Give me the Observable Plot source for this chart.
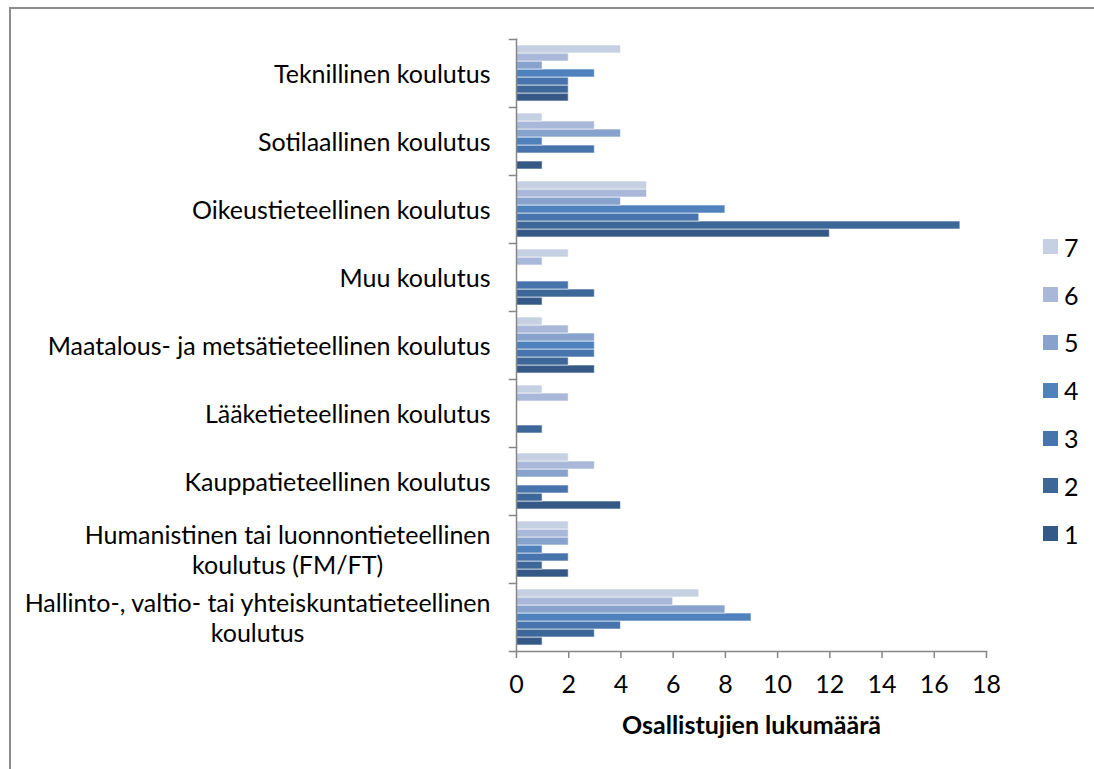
<!DOCTYPE html>
<html>
<head>
<meta charset="utf-8">
<script src="https://cdn.jsdelivr.net/npm/d3@7"></script>
<script src="https://cdn.jsdelivr.net/npm/@observablehq/plot@0.6"></script>
<style>
  html, body { margin: 0; padding: 0; background: #fff; overflow: hidden; }
  #chart { position: relative; width: 1094px; height: 769px; overflow: hidden; font-family: Lato, "Open Sans", sans-serif; }
  #border { position: absolute; left: 9px; top: 7px; right: 0; bottom: 0; border-top: 2px solid #8c8c8c; border-left: 2px solid #8c8c8c; pointer-events: none; }
  #plot { position: absolute; left: 0; top: 0; }
  #legend { position: absolute; left: 1043px; top: 223px; }
  #legend .item { display: flex; align-items: center; height: 47.8px; font-size: 25px; color: #000; }
  #legend .swatch { width: 15px; height: 15px; margin-right: 6px; }
</style>
</head>
<body>
<div id="chart">
  <div id="border"></div>
  <div id="plot"></div>
  <div id="legend"></div>
</div>
<script>
// Education backgrounds (top to bottom) and their axis labels
const categories = [
  "Teknillinen koulutus",
  "Sotilaallinen koulutus",
  "Oikeustieteellinen koulutus",
  "Muu koulutus",
  "Maatalous- ja metsätieteellinen koulutus",
  "Lääketieteellinen koulutus",
  "Kauppatieteellinen koulutus",
  "Humanistinen tai luonnontieteellinen koulutus (FM/FT)",
  "Hallinto-, valtio- tai yhteiskuntatieteellinen koulutus"
];
const categoryLabels = [
  "Teknillinen koulutus",
  "Sotilaallinen koulutus",
  "Oikeustieteellinen koulutus",
  "Muu koulutus",
  "Maatalous- ja metsätieteellinen koulutus",
  "Lääketieteellinen koulutus",
  "Kauppatieteellinen koulutus",
  "Humanistinen tai luonnontieteellinen\nkoulutus (FM/FT)",
  "Hallinto-, valtio- tai yhteiskuntatieteellinen\nkoulutus"
];

// Series 1..7, counts per category in the order above
const series = ["1", "2", "3", "4", "5", "6", "7"];
const s1 = [2, 1, 12, 1, 3, 0, 4, 2, 1];
const s2 = [2, 0, 17, 3, 2, 1, 1, 1, 3];
const s3 = [2, 3, 7, 2, 3, 0, 2, 2, 4];
const s4 = [3, 1, 8, 0, 3, 0, 0, 1, 9];
const s5 = [1, 4, 4, 0, 3, 0, 2, 2, 8];
const s6 = [2, 3, 5, 1, 2, 2, 3, 2, 6];
const s7 = [4, 1, 5, 2, 1, 1, 2, 2, 7];
const seriesValues = [s1, s2, s3, s4, s5, s6, s7];

const colors = ["#355987", "#3e6799", "#4774ad", "#4f81bd", "#87a2cc", "#a9b8d8", "#c5d0e3"];

const xTicks = [0, 2, 4, 6, 8, 10, 12, 14, 16, 18];
const xTitle = "Osallistujien lukumäärä";

// Long table for the bars
const rows = [];
series.forEach((s, j) => {
  categories.forEach((c, i) => {
    const v = seriesValues[j][i];
    if (v > 0) rows.push({category: c, series: s, value: v});
  });
});

const W = 1094, H = 769;
const mLeft = 516, mRight = 108, mTop = 37, mBottom = 117;
const plotW = W - mLeft - mRight;
const axisGray = "#868686";
const labelOf = new Map(categories.map((c, i) => [c, categoryLabels[i]]));

const chart = Plot.plot({
  width: W,
  height: H,
  marginLeft: mLeft,
  marginRight: mRight,
  marginTop: mTop,
  marginBottom: mBottom,
  style: {fontFamily: "Lato, 'Open Sans', sans-serif", fontSize: "25px", color: "#000", background: "transparent", overflow: "visible"},
  x: {domain: [0, 18]},
  fy: {domain: categories, padding: 0, label: null},
  y: {domain: series.slice().reverse(), paddingInner: 0, paddingOuter: 0.75, axis: null},
  color: {domain: series, range: colors},
  marks: [
    Plot.barX(rows, {
      fy: "category", y: "series", x: "value", fill: "series",
      stroke: "#ffffff", strokeOpacity: 0.6, strokeWidth: 1
    }),
    // category separator ticks on the left of the axis
    Plot.frame({anchor: "top", insetLeft: -7, insetRight: plotW, stroke: axisGray, strokeWidth: 1.5}),
    // axis lines
    Plot.frame({anchor: "left", facet: "super", stroke: axisGray, strokeWidth: 1.5}),
    Plot.frame({anchor: "bottom", facet: "super", insetLeft: -7, stroke: axisGray, strokeWidth: 1.5}),
    Plot.axisX({ticks: xTicks, tickSize: 7, tickPadding: 17, stroke: axisGray, strokeWidth: 1.5, fill: "#000", label: null}),
    Plot.axisFy({anchor: "left", tickSize: 0, tickPadding: 26, label: null, lineHeight: 1.2,
      tickFormat: d => labelOf.get(d), fill: "#000"}),
    Plot.text([xTitle], {frameAnchor: "bottom", facet: "super", dy: 82, fontWeight: "bold", fill: "#000"})
  ]
});

document.getElementById("plot").appendChild(chart);

// Center the lines of wrapped category labels under each other
chart.querySelectorAll('g[aria-label="fy-axis tick label"] text').forEach(t => {
  const spans = t.querySelectorAll("tspan");
  if (spans.length < 2) return;
  const w = Math.max(...Array.from(spans, s => s.getComputedTextLength()));
  t.setAttribute("text-anchor", "middle");
  spans.forEach(s => s.setAttribute("x", -w / 2));
});

// Legend, series 7 at the top
const legend = d3.select("#legend");
series.slice().reverse().forEach(s => {
  const item = legend.append("div").attr("class", "item");
  item.append("div").attr("class", "swatch").style("background", colors[series.indexOf(s)]);
  item.append("span").text(s);
});
</script>
</body>
</html>
